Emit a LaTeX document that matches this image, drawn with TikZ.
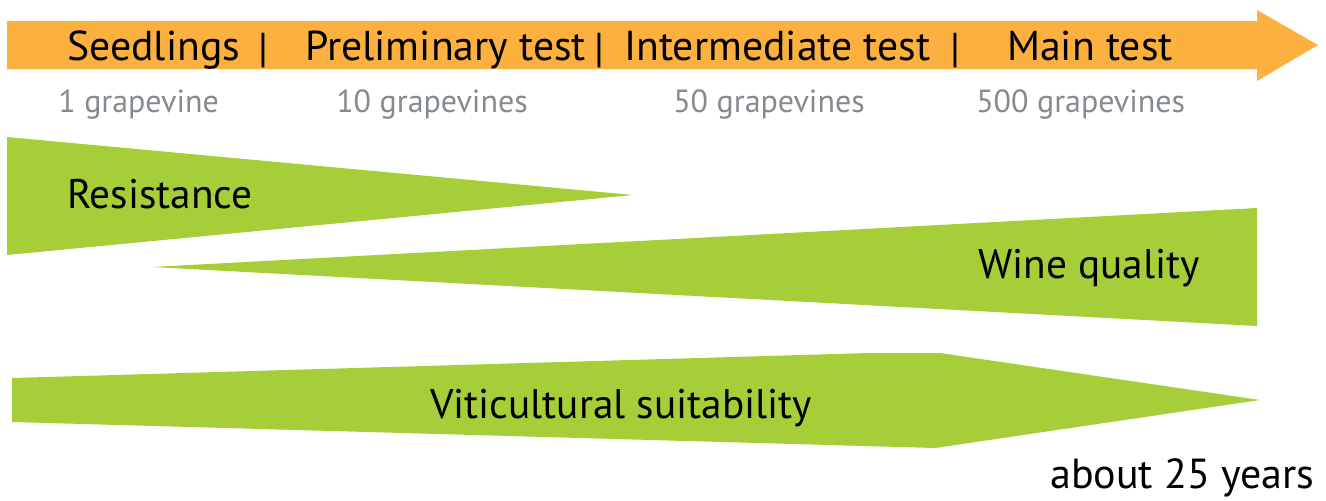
\documentclass[tikz,border=0pt]{standalone}
\usepackage{fontspec}
\setmainfont{PT Sans}
\definecolor{barorange}{HTML}{FBB040}
\definecolor{leafgreen}{HTML}{A6CE39}
\definecolor{softgray}{HTML}{858A8F}
\begin{document}
\begin{tikzpicture}[x=0.75pt,y=-0.75pt,
  head/.style={inner sep=0pt,anchor=base west,font=\fontsize{31.3}{36}\selectfont,text=black},
  count/.style={inner sep=0pt,anchor=base west,font=\fontsize{24}{28}\selectfont,text=softgray},
  label/.style={inner sep=0pt,anchor=base west,font=\fontsize{31}{36}\selectfont,text=black},
  band/.style={fill=leafgreen,draw=none}]
\useasboundingbox (0,0) rectangle (1326,500);
% timeline arrow
\fill[barorange] (7,21) -- (1257,21) -- (1257,10) -- (1318,45) -- (1257,81) -- (1257,69) -- (7,69) -- cycle;
\node[head] (h1) at (67,60) {Seedlings};
\node[head] (s1) at (258,62) {|};
\node[head] (h2) at (305,60) {Preliminary test};
\node[head] (s2) at (594,62) {|};
\node[head] (h3) at (624,60) {Intermediate test};
\node[head] (s3) at (950,62) {|};
\node[head] (h4) at (1007,60) {Main test};
\node[count] (c1) at (58,112) {1 grapevine};
\node[count] (c2) at (336,112) {10 grapevines};
\node[count] (c3) at (673,112) {50 grapevines};
\node[count] (c4) at (976,112) {500 grapevines};
% bands
\path[band] (7,137) -- (633,195) -- (7,255) -- cycle;
\node[label] (r) at (67,208) {Resistance};
\path[band] (152,267) -- (1257,208) -- (1257,326) -- cycle;
\node[label] (w) at (978,278) {Wine quality};
\path[band] (12,378) -- (870,353) -- (940,353) -- (1260,400) -- (935,448) -- (12,422) -- cycle;
\node[label] (v) at (430,418) {Viticultural suitability};
\node[label,font=\fontsize{31.5}{36}\selectfont] (y) at (1050,488) {about 25 years};
\end{tikzpicture}
\end{document}
